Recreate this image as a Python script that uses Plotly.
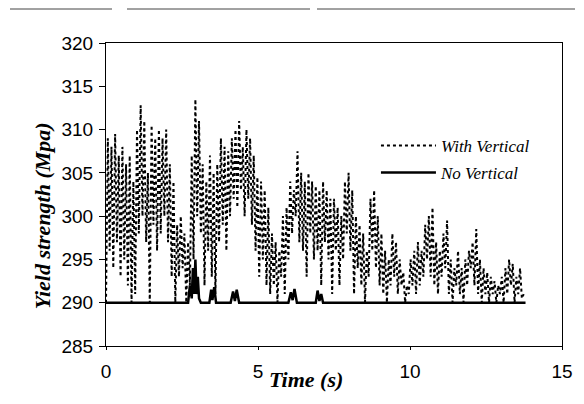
import numpy as np
import plotly.graph_objects as go

# ---- data ----
dt_with = 0.06  # sampling step of the "With Vertical" record (s)
y_with = [
    290, 309, 296, 308, 294, 309.5, 297, 307, 293, 308,
    295, 306, 292, 307, 290, 304, 291, 310, 298, 312.8,
    300, 311, 297, 305, 290, 310.5, 299, 309, 296, 310,
    298, 309, 300, 310, 297, 306, 293, 304, 290, 299,
    293, 300, 294, 298, 290, 297, 292, 307, 295, 313.5,
    300, 311, 298, 306, 292, 304, 296, 307, 293, 305,
    291, 306, 297, 309, 299, 308, 296, 307.5, 300, 309,
    302, 310, 301, 311, 303, 308, 300, 310, 302, 309,
    299, 307, 296, 304.5, 293, 304, 295, 303, 292, 301,
    291, 298, 292, 297, 290, 296, 293, 300, 291, 301,
    295, 304, 298, 303, 300, 307.5, 297, 305, 296, 304,
    293, 305, 298, 304, 295, 303.5, 296, 303, 292, 304,
    297, 303, 295, 302, 291, 302, 296, 301, 292, 300,
    295, 304, 298, 305, 296, 303, 291, 300, 294, 299,
    292, 298, 290, 296, 293, 302, 296, 303, 294, 300,
    292, 298, 291, 296, 290, 295, 292, 298, 293, 297,
    291, 295, 292, 293.5, 290, 292, 291, 295, 292, 296,
    291, 297, 292, 296, 293, 299, 295, 300, 293, 301,
    292, 297, 291, 296, 293, 298, 294, 299.5, 291, 295,
    290, 294, 292, 296, 291, 294, 290, 295, 292, 296,
    294, 297, 292, 298.5, 291, 295, 290, 294, 291, 293.5,
    290, 293, 291, 292.5, 290, 292, 291, 293, 290, 294,
    291, 295, 292, 294.5, 290, 293, 291, 294, 290.5, 291,
]
t_with = np.arange(len(y_with)) * dt_with

t_no = [0, 2.70, 2.76, 2.82, 2.86, 2.90, 2.94, 2.98, 3.02, 3.06, 3.12,
        3.40, 3.46, 3.50, 3.56, 3.62, 4.10, 4.18, 4.24, 4.30, 4.38,
        6.00, 6.08, 6.14, 6.20, 6.28, 6.90, 6.96, 7.02, 7.08, 7.14, 13.8]
y_no = [290, 290, 292, 290.5, 294, 291, 295, 291, 293, 290.5, 290,
        290, 291.5, 290.3, 291.8, 290, 290, 291.3, 290.2, 291.5, 290,
        290, 291.2, 290.3, 291.6, 290, 290, 291.4, 290.2, 291, 290, 290]

x_ticks = [0, 5, 10, 15]
y_ticks = [285, 290, 295, 300, 305, 310, 315, 320]

fig = go.Figure()
fig.add_trace(go.Scatter(
    x=t_with, y=y_with, mode="lines", name="<i>With Vertical</i>",
    line=dict(color="black", width=2, dash="dot"), legendgroup="a"))
fig.add_trace(go.Scatter(
    x=t_no, y=y_no, mode="lines", name="<i>No Vertical</i>",
    line=dict(color="black", width=2.5), legendgroup="b"))

axis_common = dict(showgrid=False, zeroline=False, showline=True, linecolor="black",
                   linewidth=1, mirror=True, ticks="outside", tickcolor="black",
                   tickfont=dict(family="Liberation Sans, Arial", size=19, color="black"))
fig.update_xaxes(range=[0, 15], tickvals=x_ticks, ticklen=3, ticklabelstandoff=5,
                 **axis_common)
fig.update_yaxes(range=[285, 320], tickvals=y_ticks, ticklen=6, ticklabelstandoff=2,
                 **axis_common)

fig.add_annotation(text="<b><i>Yield strength (Mpa)</i></b>", xref="paper", yref="paper",
                   x=-0.139, y=0.43, xanchor="center", yanchor="middle",
                   textangle=-90, showarrow=False,
                   font=dict(family="Liberation Serif", size=22, color="black"))
fig.add_annotation(text="<b><i>Time (s)</i></b>", xref="paper", yref="paper",
                   x=0.438, y=-0.11, xanchor="center", yanchor="middle", showarrow=False,
                   font=dict(family="Liberation Serif", size=22, color="black"))

# scan decoration lines at the top
for x0, x1 in [(10, 112), (127, 310), (317, 575)]:
    fig.add_shape(type="line", xref="paper", yref="paper",
                  x0=(x0 - 106) / 456, x1=(x1 - 106) / 456,
                  y0=(346 - 9) / 303, y1=(346 - 9) / 303,
                  line=dict(color="#444", width=1))

# the page body adds an 8px margin, so the figure is 8px smaller
fig.update_layout(
    width=576, height=396,
    margin=dict(l=98, r=22, t=35, b=58),
    plot_bgcolor="white", paper_bgcolor="white",
    showlegend=True,
    legend=dict(x=0.592, y=0.72, xanchor="left", yanchor="top",
                bgcolor="rgba(0,0,0,0)", tracegroupgap=2, itemwidth=55,
                font=dict(family="Liberation Serif", size=17, color="black")),
)

fig.write_html("out.html")
